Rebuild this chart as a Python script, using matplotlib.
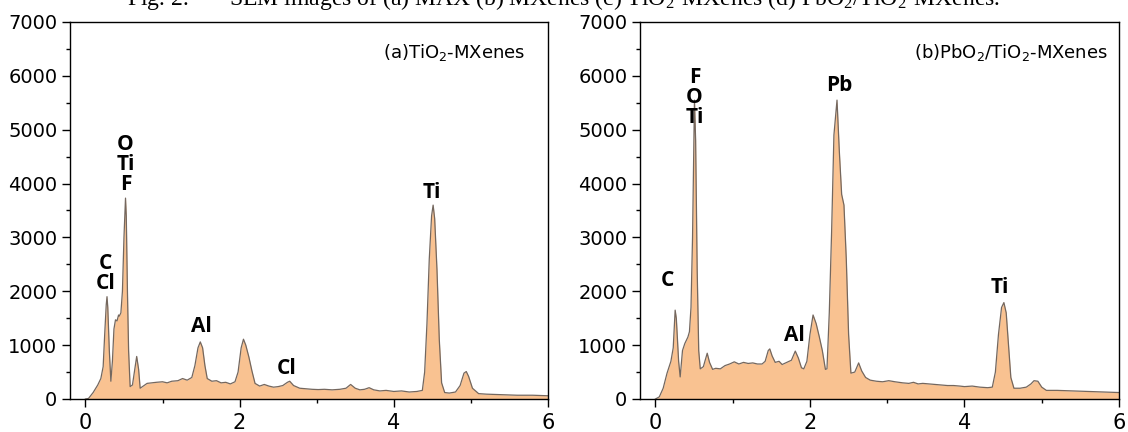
import matplotlib
matplotlib.use('Agg')
import matplotlib.pyplot as plt
from matplotlib.ticker import MultipleLocator

plt.rcParams['mathtext.default'] = 'regular'

# EDS spectrum (a) TiO2-MXenes : energy (keV) / counts
energy_a = [0.00, 0.04, 0.10, 0.16, 0.20, 0.23, 0.25, 0.27, 0.28, 0.29, 0.31, 0.33,
            0.35, 0.37, 0.39, 0.41, 0.43, 0.44, 0.46, 0.48, 0.50, 0.52, 0.53, 0.545,
            0.56, 0.58, 0.61, 0.64, 0.665, 0.69, 0.71, 0.74, 0.80, 0.86, 0.92, 1.00,
            1.06, 1.12, 1.20, 1.26, 1.32, 1.38, 1.42, 1.46, 1.49, 1.52, 1.55, 1.58,
            1.64, 1.70, 1.76, 1.82, 1.88, 1.94, 1.98, 2.02, 2.05, 2.08, 2.12, 2.16,
            2.20, 2.26, 2.32, 2.38, 2.44, 2.50, 2.56, 2.62, 2.65, 2.70, 2.78, 2.86,
            2.94, 3.02, 3.10, 3.20, 3.30, 3.38, 3.44, 3.50, 3.56, 3.62, 3.68, 3.74,
            3.82, 3.90, 4.00, 4.10, 4.20, 4.30, 4.37, 4.40, 4.43, 4.46, 4.49, 4.51,
            4.53, 4.56, 4.59, 4.62, 4.66, 4.72, 4.80, 4.86, 4.91, 4.94, 4.97, 5.02,
            5.10, 5.20, 5.40, 5.60, 5.80, 6.00]
counts_a = [0, 10, 120, 260, 380, 600, 1200, 1750, 1900, 1700, 900, 330,
            700, 1300, 1470, 1450, 1560, 1540, 1600, 2000, 3000, 3730, 3400, 2000,
            900, 230, 260, 550, 790, 550, 200, 230, 290, 300, 310, 320,
            300, 330, 340, 380, 350, 400, 620, 950, 1060, 950, 620, 380,
            330, 340, 300, 310, 280, 320, 500, 950, 1110, 1000, 780, 520,
            290, 240, 270, 240, 220, 230, 250, 310, 330, 250, 200, 190,
            180, 175, 180, 170, 180, 200, 270, 200, 170, 180, 210, 170,
            150, 160, 140, 150, 130, 140, 160, 500, 1400, 2600, 3400, 3600,
            3350, 2400, 1100, 300, 120, 110, 130, 250, 480, 510, 420, 200,
            100, 90, 80, 70, 70, 60]

# EDS spectrum (b) PbO2/TiO2-MXenes
energy_b = [0.00, 0.05, 0.10, 0.15, 0.20, 0.23, 0.255, 0.27, 0.30, 0.32, 0.35, 0.38,
            0.42, 0.44, 0.46, 0.48, 0.505, 0.52, 0.54, 0.56, 0.58, 0.62, 0.67, 0.70,
            0.74, 0.78, 0.84, 0.90, 0.96, 1.02, 1.08, 1.14, 1.20, 1.26, 1.32, 1.38,
            1.42, 1.46, 1.48, 1.51, 1.55, 1.60, 1.64, 1.70, 1.76, 1.81, 1.85, 1.89,
            1.92, 1.96, 2.00, 2.04, 2.08, 2.12, 2.16, 2.20, 2.22, 2.25, 2.28, 2.31,
            2.35, 2.38, 2.41, 2.44, 2.47, 2.50, 2.53, 2.58, 2.63, 2.67, 2.72, 2.78,
            2.86, 2.94, 3.02, 3.10, 3.20, 3.28, 3.34, 3.40, 3.46, 3.54, 3.62, 3.70,
            3.78, 3.86, 3.94, 4.00, 4.10, 4.20, 4.30, 4.36, 4.40, 4.44, 4.48, 4.51,
            4.54, 4.57, 4.60, 4.64, 4.72, 4.80, 4.86, 4.90, 4.95, 5.00, 5.06, 5.20,
            5.40, 5.60, 5.80, 6.00]
counts_b = [0, 40, 200, 480, 700, 950, 1650, 1500, 700, 410, 900, 1030,
            1150, 1250, 1700, 3000, 5550, 4800, 2400, 900, 560, 600, 850, 680,
            550, 570, 560, 620, 650, 690, 650, 680, 660, 670, 650, 650,
            700, 900, 930, 800, 680, 700, 640, 680, 720, 890, 760, 580,
            560, 700, 1200, 1560, 1400, 1160, 900, 550, 560, 1600, 3100, 4900,
            5550, 4600, 3800, 3600, 2600, 1200, 480, 500, 670, 520, 400, 350,
            330, 320, 340, 320, 300, 290, 310, 280, 290, 280, 270, 260,
            250, 250, 240, 230, 240, 220, 210, 220, 500, 1200, 1700, 1790,
            1600, 1000, 400, 200, 200, 220, 280, 340, 330, 220, 160, 160,
            150, 140, 130, 120]

# peak labels: (text, x, y of label bottom)
peaks_a = [('C\nCl', 0.26, 1950), ('O\nTi\nF', 0.52, 3780), ('Al', 1.50, 1150),
           ('Cl', 2.61, 380), ('Ti', 4.49, 3640)]
peaks_b = [('C', 0.16, 2000), ('F\nO\nTi', 0.505, 5030), ('Al', 1.80, 985),
           ('Pb', 2.38, 5630), ('Ti', 4.46, 1875)]

fill_col = '#F9C291'
line_col = '#74675e'

fig = plt.figure(figsize=(11.28, 4.32), dpi=100)
ax_a = fig.add_axes([70/1128, 33/432, 478/1128, 377/432])
ax_b = fig.add_axes([640/1128, 33/432, 479/1128, 377/432])


def draw_panel(ax, x, y, peaks, title, title_x):
    ax.fill_between(x, y, 0, color=fill_col, lw=0)
    ax.plot(x, y, color=line_col, lw=0.9)
    ax.set_xlim(-0.2, 6)
    ax.set_ylim(0, 7000)
    ax.xaxis.set_major_locator(MultipleLocator(2))
    ax.xaxis.set_minor_locator(MultipleLocator(1))
    ax.yaxis.set_major_locator(MultipleLocator(1000))
    ax.yaxis.set_minor_locator(MultipleLocator(500))
    ax.tick_params(which='both', direction='out', width=1, top=False, right=False)
    ax.tick_params(which='major', length=6)
    ax.tick_params(which='minor', length=3)
    ax.tick_params(axis='y', labelsize=14, pad=3)
    ax.tick_params(axis='x', labelsize=15, pad=4)
    for s in ax.spines.values():
        s.set_linewidth(1.0)
    for lab in ax.get_xticklabels() + ax.get_yticklabels():
        lab.set_family('DejaVu Sans')
    for txt, px, py in peaks:
        ax.text(px, py, txt, ha='center', va='bottom', fontsize=15,
                family='Open Sans', fontweight='bold', linespacing=0.95)
    ax.text(title_x, 0.905, title, transform=ax.transAxes, ha='right',
            va='baseline', fontsize=13, family='DejaVu Sans')


draw_panel(ax_a, energy_a, counts_a, peaks_a, r'(a)TiO$_2$-MXenes', 0.952)
draw_panel(ax_b, energy_b, counts_b, peaks_b, r'(b)PbO$_2$/TiO$_2$-MXenes', 0.977)

# figure caption, sitting at the very top edge
fig.text(0.5, 1 - 5/432, r'Fig. 2.       SEM images of (a) MAX (b) MXenes (c) TiO$_2$-MXenes (d) PbO$_2$/TiO$_2$-MXenes.',
         ha='center', va='baseline', fontsize=17, family='Liberation Serif')

fig.savefig('out.png', dpi=100)
